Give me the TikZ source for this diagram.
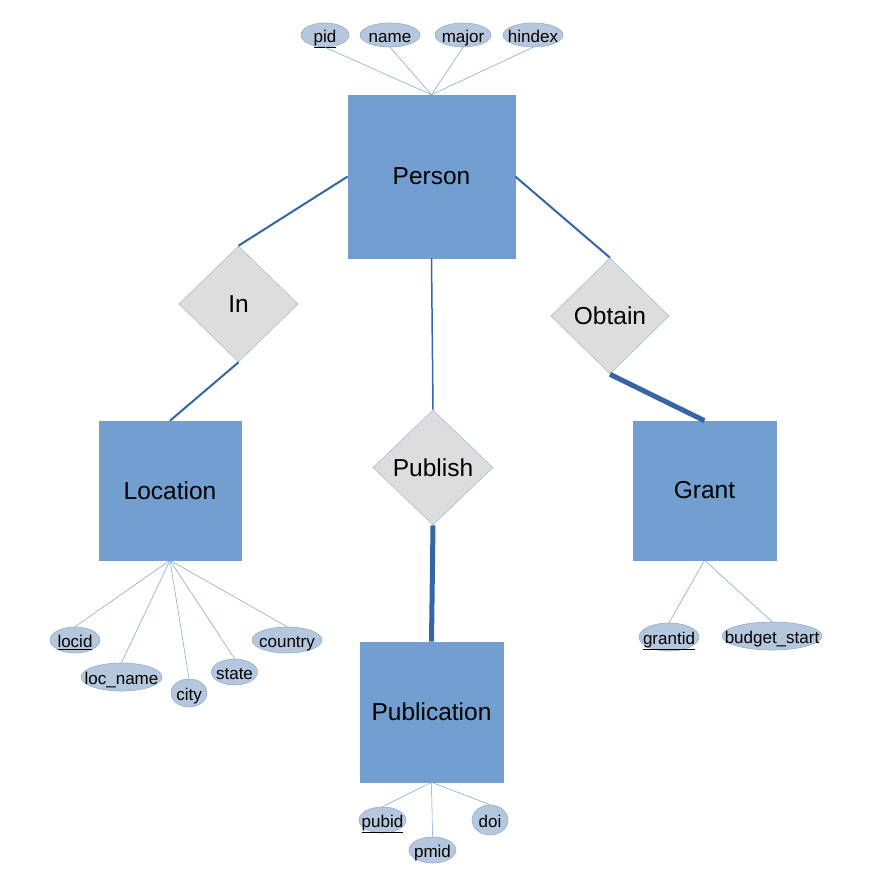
\documentclass[tikz,border=0pt]{standalone}
\usepackage{fontspec}
\setmainfont{Liberation Sans}
\usetikzlibrary{shapes.geometric}
\definecolor{entfill}{HTML}{729FCF}
\definecolor{relfill}{HTML}{DDDDDD}
\definecolor{relline}{HTML}{A9BCD2}
\definecolor{attfill}{HTML}{B4C7DC}
\definecolor{attline}{HTML}{97AECB}
\definecolor{conn}{HTML}{3465A4}
\newcommand{\att}[1]{\makebox[0pt]{\raisebox{-7.5pt}[0pt][0pt]{#1}}}
\tikzset{
  entity/.style={rectangle, fill=entfill, draw=entfill, line width=0.6pt, inner sep=0pt, font=\fontsize{24.5}{28}\selectfont},
  relship/.style={diamond, fill=relfill, draw=relline, line width=0.6pt, inner sep=0pt, font=\fontsize{24.5}{28}\selectfont},
  attr/.style={ellipse, fill=attfill, draw=attline, line width=0.6pt, inner sep=0pt, font=\fontsize{17}{20}\selectfont},
  attlink/.style={draw=entfill, line width=0.5pt},
  rellink/.style={draw=conn, line width=2pt},
  boldlink/.style={draw=conn, line width=5pt},
}
\begin{document}
\begin{tikzpicture}[x=1pt,y=-1pt]
\useasboundingbox (0,0) rectangle (873,889);
% entities
\node[entity, minimum width=167pt, minimum height=163pt] (person) at (431.5,176.5) {Person};
\node[entity, minimum width=142pt, minimum height=139pt] (location) at (170,490.5) {Location};
\node[entity, minimum width=143pt, minimum height=139pt] (grant) at (704.5,490.5) {Grant};
\node[entity, minimum width=143pt, minimum height=140pt] (publication) at (431.5,712) {Publication};
% relationships
\node[relship, minimum width=119pt, minimum height=116pt] (in) at (238.5,304) {In};
\node[relship, minimum width=118pt, minimum height=116pt] (obtain) at (610,316) {Obtain};
\node[relship, minimum width=120pt, minimum height=115pt] (publish) at (433,467.5) {Publish};
% connectors
\draw[rellink] (person.west) -- (in.north);
\draw[rellink] (in.south) -- (location.north);
\draw[rellink] (person.east) -- (obtain.north);
\draw[boldlink] (obtain.south) -- (grant.north);
\draw[draw=conn, line width=1.5pt] (person.south) -- (publish.north);
\draw[boldlink] (publish.south) -- (publication.north);
% person attributes
\node[attr, minimum width=48pt, minimum height=24pt] (pid) at (325,35) {\att{\underline{pid}}};
\node[attr, minimum width=60pt, minimum height=24pt] (name) at (390,35) {\att{name}};
\node[attr, minimum width=56pt, minimum height=24pt] (major) at (463,35) {\att{major}};
\node[attr, minimum width=60pt, minimum height=24pt] (hindex) at (533,35) {\att{hindex}};
\foreach \a in {pid,name,major,hindex} \draw[attlink] (\a.south) -- (person.north);
% location attributes
\node[attr, minimum width=50pt, minimum height=26pt] (locid) at (75,640) {\att{\underline{locid}}};
\node[attr, minimum width=81pt, minimum height=28pt] (locname) at (121.5,677) {\att{loc\_name}};
\node[attr, minimum width=36pt, minimum height=28pt] (city) at (189,693) {\att{city}};
\node[attr, minimum width=46pt, minimum height=26pt] (state) at (234.5,672) {\att{state}};
\node[attr, minimum width=70pt, minimum height=26pt] (country) at (287,640) {\att{country}};
\foreach \a in {locid,locname,city,state,country} \draw[attlink] (location.south) -- (\a.north);
% publication attributes
\node[attr, minimum width=47pt, minimum height=26pt] (pubid) at (382.5,820) {\att{\underline{pubid}}};
\node[attr, minimum width=47pt, minimum height=26pt] (pmid) at (432.5,850) {\att{pmid}};
\node[attr, minimum width=36pt, minimum height=30pt] (doi) at (490,820) {\att{doi}};
\foreach \a in {pubid,pmid,doi} \draw[attlink] (publication.south) -- (\a.north);
% grant attributes
\node[attr, minimum width=60pt, minimum height=28pt] (grantid) at (669,637) {\att{\underline{grantid}}};
\node[attr, minimum width=100pt, minimum height=28pt] (budget) at (772,636) {\att{budget\_start}};
\foreach \a in {grantid,budget} \draw[attlink] (grant.south) -- (\a.north);
\end{tikzpicture}
\end{document}
